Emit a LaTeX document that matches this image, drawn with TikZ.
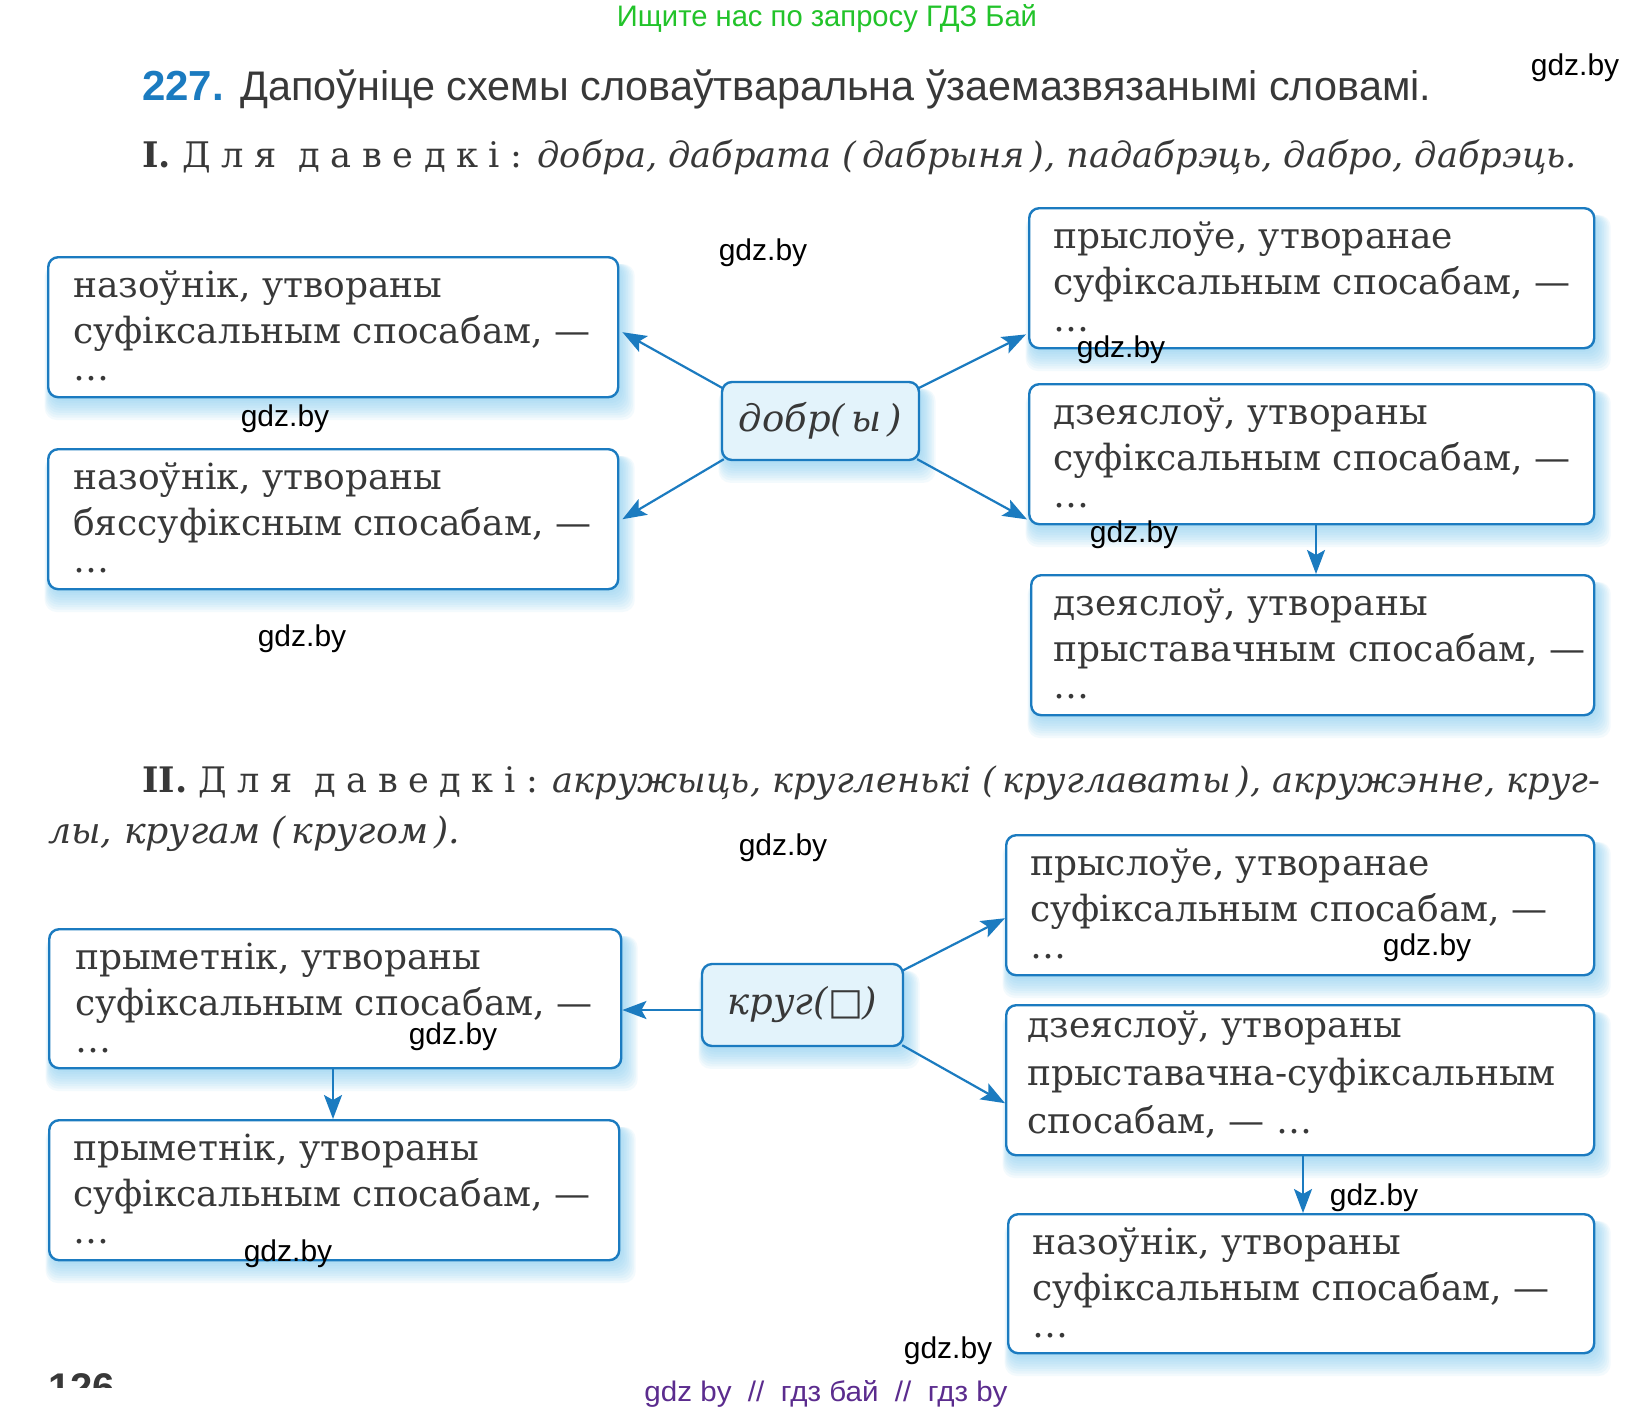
\documentclass[tikz,border=0pt]{standalone}
\usepackage{fontspec}
\setmainfont{DejaVu Serif}
\newfontfamily\sansf{Liberation Sans}
\newfontfamily\symf{DejaVu Sans}
\usetikzlibrary{arrows.meta,calc,backgrounds}
\definecolor{bblue}{HTML}{1B7BC0}
\definecolor{cfill}{HTML}{E3F3FB}
\definecolor{glowc}{HTML}{7FCBF0}
\definecolor{txt}{HTML}{383838}
\definecolor{wgreen}{HTML}{22C32A}
\definecolor{wpurple}{HTML}{5B2C8E}
\tikzset{
  wbox/.style={draw=bblue, line width=2.4pt, rounded corners=10pt, fill=white, inner sep=0pt, anchor=north west},
  cbox/.style={wbox, fill=cfill, anchor=center, font=\itshape\fontsize{37}{37}\selectfont, text=txt},
  btxt/.style={anchor=base west, inner sep=0pt, align=left, text=txt, font=\fontsize{36}{46}\selectfont},
  arr/.style={draw=bblue, line width=2.2pt, -{Stealth[length=24pt,width=18pt,inset=5pt]}},
  wm/.style={font=\sansf\fontsize{30}{30}\selectfont, text=black, inner sep=0pt},
  hline/.style={anchor=base west, inner sep=0pt, text=txt},
}
\begin{document}
\begin{tikzpicture}[x=1pt,y=-1pt]
\useasboundingbox (0,0) rectangle (1645,1414);

% header
\node[anchor=base, inner sep=0pt, text=wgreen, font=\sansf] (wtop) at (827,26) {\resizebox{420pt}{22pt}{Ищите нас по запросу ГДЗ Бай}};
\node[hline, text=bblue, font=\sansf\bfseries\fontsize{42}{42}\selectfont] (num) at (142,100) {227.};
\node[hline, font=\sansf] (title) at (240,100) {\resizebox{1191pt}{!}{\fontsize{40}{40}\selectfont Дапоўніце схемы словаўтваральна ўзаемазвязанымі словамі.}};
\node[hline] (refI) at (142,167) {\resizebox{1435pt}{!}{\fontsize{34}{34}\selectfont\textbf{I.} {\addfontfeature{LetterSpace=30}Для даведкі:} \textit{добра, дабрата (\,дабрыня\,), падабрэць, дабро, дабрэць.}}};

% section I boxes
\node[wbox, minimum width=570pt, minimum height=140pt] (L1) at (47,256) {};
\node[wbox, minimum width=570pt, minimum height=140pt] (L2) at (47,448) {};
\node[cbox, minimum width=197pt, minimum height=78pt] (dobr) at (820.5,421) {добр(\,ы\,)};
\node[wbox, minimum width=565pt, minimum height=140pt] (R1) at (1028,207) {};
\node[wbox, minimum width=565pt, minimum height=140pt] (R2) at (1028,383) {};
\node[wbox, minimum width=563pt, minimum height=140pt] (R3) at (1030,574) {};

% (base anchor = baseline of the last line)
\node[btxt] (L1t) at (73,380) {назоўнік, утвораны\\суфіксальным спосабам, —\\[-9pt]…};
\node[btxt] (L2t) at (73,572) {назоўнік, утвораны\\бяссуфіксным спосабам, —\\[-9pt]…};
\node[btxt] (R1t) at (1053,331) {прыслоўе, утворанае\\суфіксальным спосабам, —\\[-9pt]…};
\node[btxt] (R2t) at (1053,507) {дзеяслоў, утвораны\\суфіксальным спосабам, —\\[-9pt]…};
\node[btxt] (R3t) at (1053,698) {дзеяслоў, утвораны\\прыставачным спосабам, —\\[-9pt]…};

% section II heading
\node[hline] (refII) at (142,792) {\resizebox{1458pt}{!}{\fontsize{34}{34}\selectfont\textbf{II.} {\addfontfeature{LetterSpace=30}Для даведкі:} \textit{акружыць, кругленькі (\,круглаваты\,), акружэнне, круг-}}};
\node[hline] (refIIb) at (48,843) {\resizebox{412pt}{!}{\fontsize{34}{34}\selectfont\textit{лы, кругам (\,кругом\,).}}};

% section II boxes
\node[wbox, minimum width=588pt, minimum height=140pt] (R1b) at (1005,834) {};
\node[wbox, minimum width=572pt, minimum height=139pt] (L1b) at (48,928) {};
\node[cbox, minimum width=201pt, minimum height=82pt] (krug) at (802.5,1005) {круг({\symf\upshape □})};
\node[wbox, minimum width=570pt, minimum height=140pt] (L2b) at (48,1119) {};
\node[wbox, minimum width=588pt, minimum height=150pt] (R2b) at (1005,1004) {};
\node[wbox, minimum width=586pt, minimum height=139pt] (R3b) at (1007,1213) {};

\node[btxt] (R1bt) at (1030,958) {прыслоўе, утворанае\\суфіксальным спосабам, —\\[-9pt]…};
\node[btxt] (L1bt) at (75,1052) {прыметнік, утвораны\\суфіксальным спосабам, —\\[-9pt]…};
\node[btxt] (L2bt) at (73,1243) {прыметнік, утвораны\\суфіксальным спосабам, —\\[-9pt]…};
\node[btxt, font=\fontsize{36}{48}\selectfont] (R2bt) at (1027,1133) {дзеяслоў, утвораны\\прыставачна-суфіксальным\\спосабам, — …};
\node[btxt] (R3bt) at (1032,1337) {назоўнік, утвораны\\суфіксальным спосабам, —\\[-9pt]…};

% glow
\begin{pgfonlayer}{background}
\fill[white] (0,0) rectangle (1645,1414);
\foreach \n in {L1,L2,R1,R2,R3,dobr,R1b,L1b,krug,L2b,R2b,R3b}{
  \foreach \i in {1,...,9}{
    \fill[glowc, opacity=0.09, rounded corners=12pt]
      ($(\n.north west)+(4-\i*0.7,8)$) rectangle ($(\n.south east)+(\i*1.7,\i*2.4)$);
  }
}
\end{pgfonlayer}

% arrows
\draw[arr] ($(dobr.north west)+(3,8)$) -- ($(L1.east)+(3,5)$);
\draw[arr] ($(dobr.south west)+(3,-2)$) -- ($(L2.east)+(3,0)$);
\draw[arr] ($(dobr.north east)+(-3,8)$) -- ($(R1.south west)+(-2,-15)$);
\draw[arr] ($(dobr.south east)+(-3,-2)$) -- ($(R2.south west)+(-1,-6)$);
\draw[arr] (R2.south -| 1316,0) -- (R3.north -| 1316,0);
\draw[arr] (krug.west |- 0,1010) -- (L1b.east |- 0,1010);
\draw[arr] (L1b.south -| 333,0) -- (L2b.north -| 333,0);
\draw[arr] (R2b.south -| 1303,0) -- (R3b.north -| 1303,0);
\draw[arr] ($(krug.north east)+(-2,8)$) -- ($(R1b.west)+(0,13)$);
\draw[arr] ($(krug.south east)+(-2,-2)$) -- ($(R2b.west)+(0,23)$);

% page number (clipped) and footer
\begin{scope}
  \clip (40,1360) rectangle (200,1387);
  \node[hline, font=\sansf\bfseries\fontsize{40}{40}\selectfont] (pg) at (48,1401) {126};
\end{scope}
\node[anchor=base, inner sep=0pt, text=wpurple, font=\sansf] (wbot) at (826,1401) {\resizebox{363pt}{21pt}{gdz by~~//~~гдз бай~~//~~гдз by}};

% watermarks
\node[wm] (w1) at (1575,68) {gdz.by};
\node[wm] (w2) at (763,253) {gdz.by};
\node[wm] (w3) at (285,419) {gdz.by};
\node[wm] (w4) at (1121,350) {gdz.by};
\node[wm] (w5) at (1134,535) {gdz.by};
\node[wm] (w6) at (302,639) {gdz.by};
\node[wm] (w7) at (783,848) {gdz.by};
\node[wm] (w8) at (1427,948) {gdz.by};
\node[wm] (w9) at (453,1037) {gdz.by};
\node[wm] (w10) at (1374,1198) {gdz.by};
\node[wm] (w11) at (288,1254) {gdz.by};
\node[wm] (w12) at (948,1351) {gdz.by};
\end{tikzpicture}
\end{document}
